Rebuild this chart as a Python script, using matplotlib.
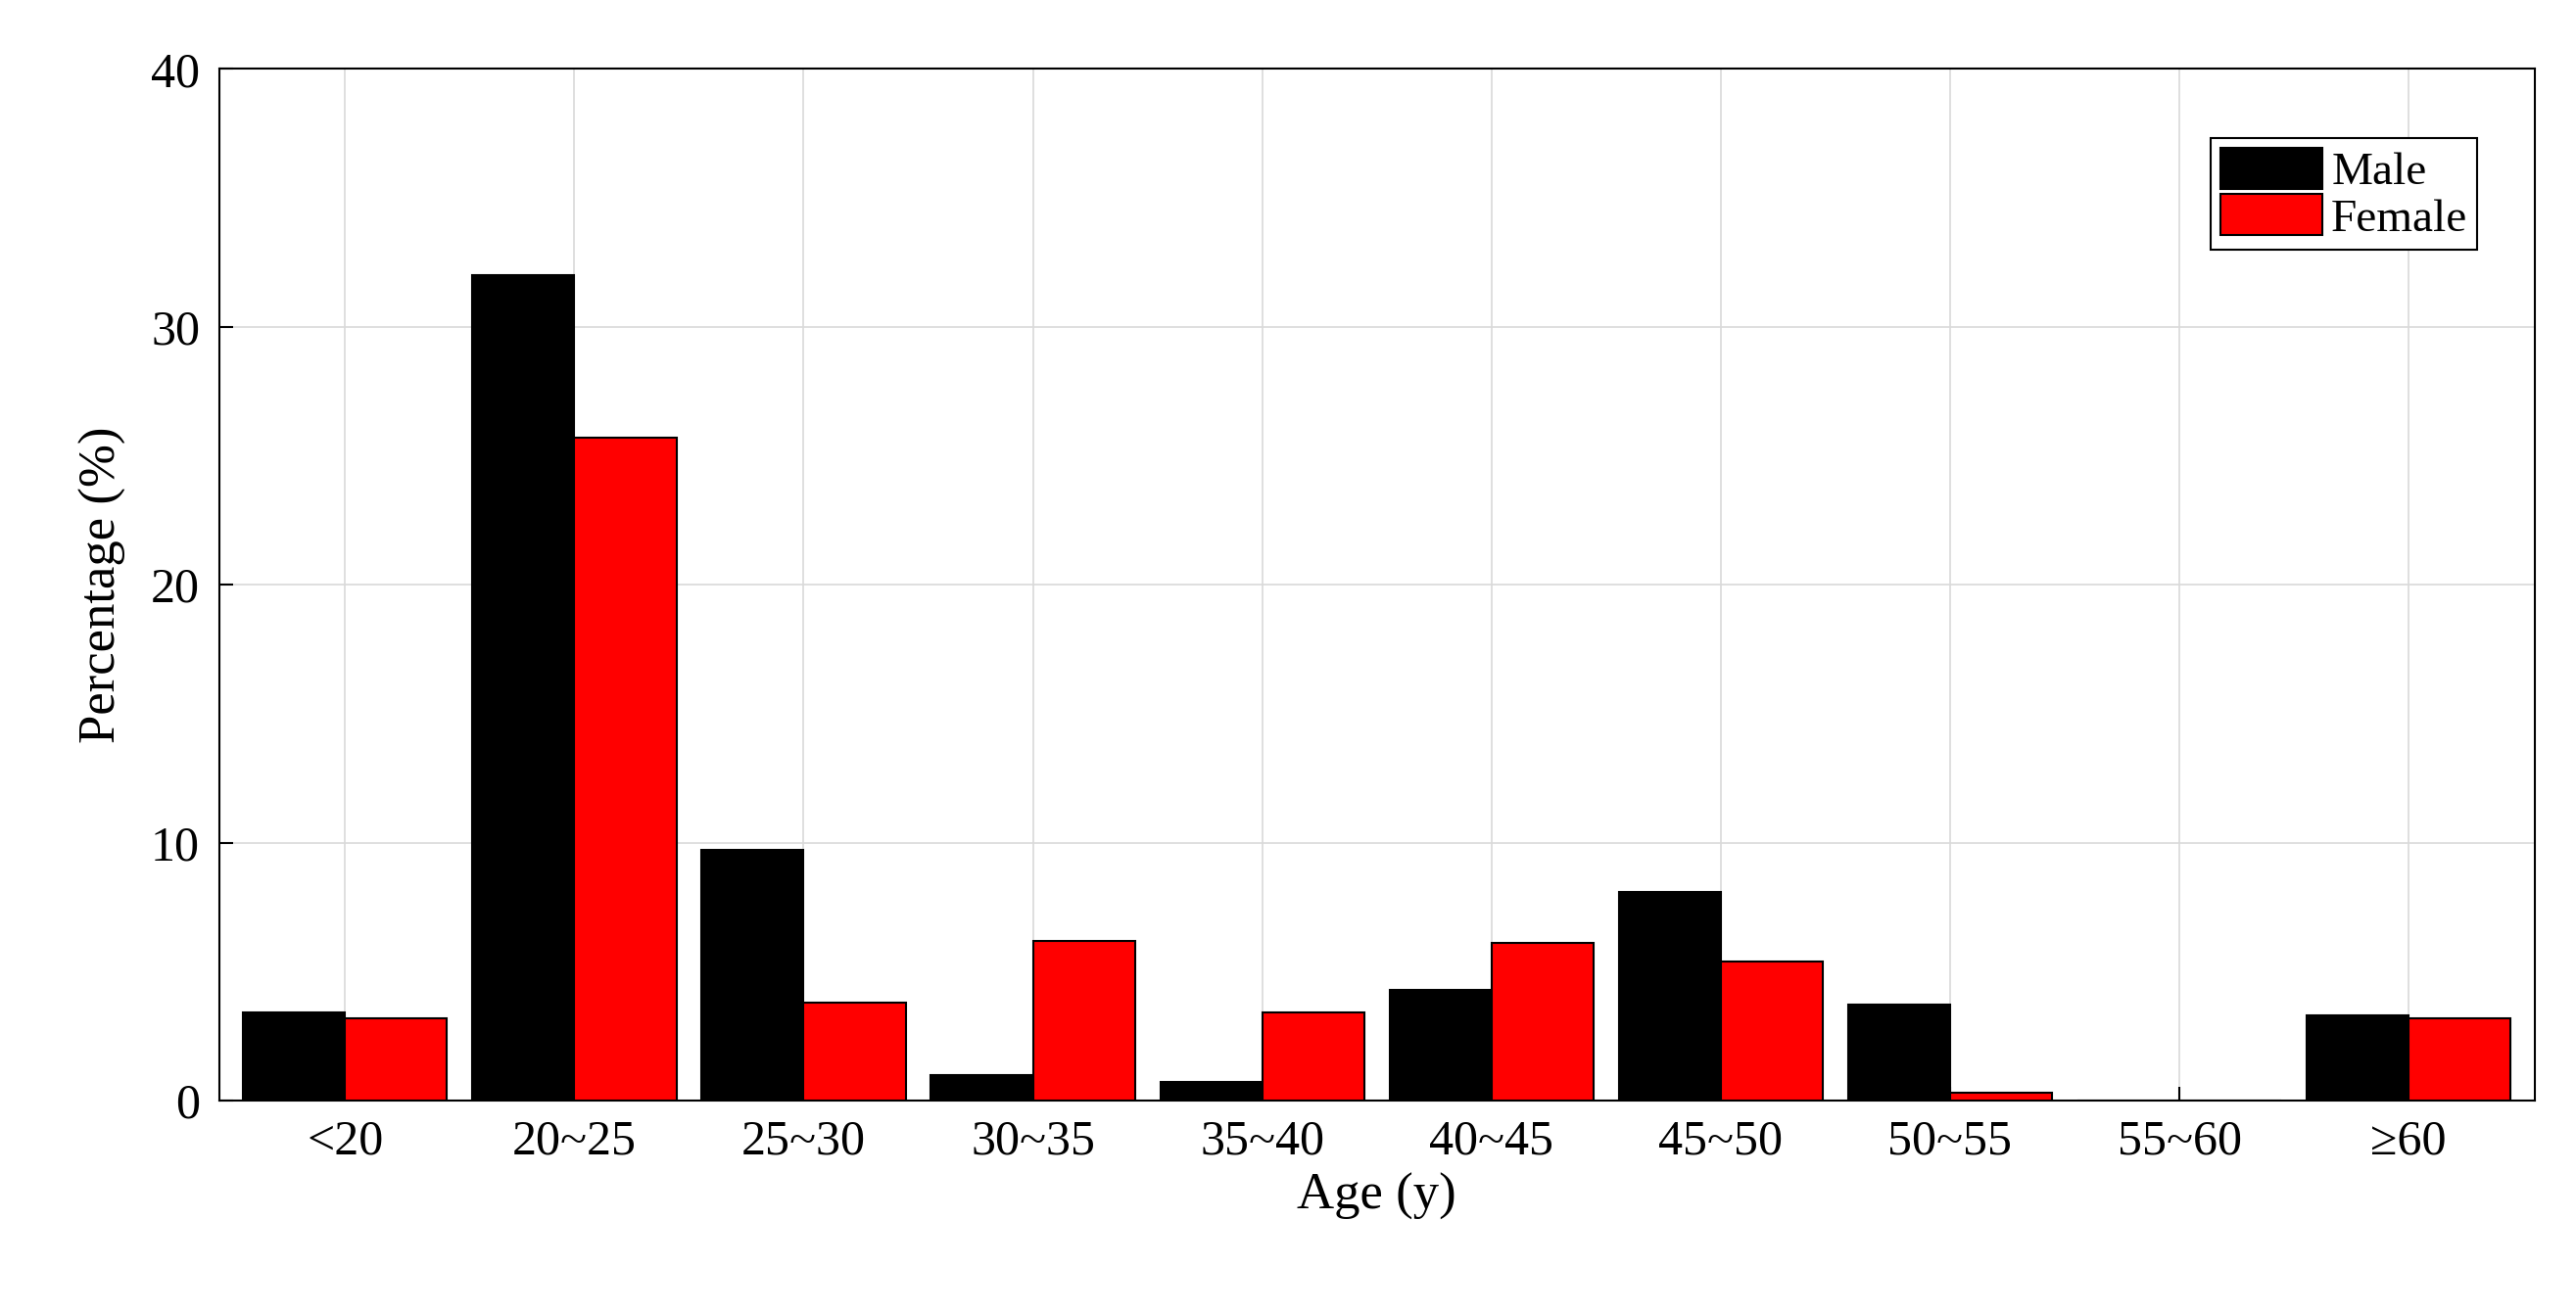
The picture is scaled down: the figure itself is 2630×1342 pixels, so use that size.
import matplotlib
matplotlib.use("Agg")
import matplotlib.pyplot as plt
import numpy as np

categories = ["<20", "20~25", "25~30", "30~35", "35~40", "40~45", "45~50", "50~55", "55~60", "≥60"]
male = [3.4, 32.0, 9.7, 1.0, 0.7, 4.3, 8.1, 3.7, 0.0, 3.3]
female = [3.2, 25.7, 3.8, 6.2, 3.4, 6.1, 5.4, 0.3, 0.0, 3.2]

plt.rcParams['font.family'] = ['Liberation Serif', 'DejaVu Serif']
fig = plt.figure(figsize=(26.3, 13.42), dpi=100)
ax = fig.add_axes([0.085, 0.1625, 0.899, 0.785])
x = np.arange(len(categories))
w = 0.445
ax.bar(x - w/2, male, w, color='black', edgecolor='black', linewidth=1.5, label='Male', zorder=3)
ax.bar(x + w/2, female, w, color='#ff0000', edgecolor='black', linewidth=1.5, label='Female', zorder=3)
ax.set_xlim(-0.55, len(categories) - 0.45)
ax.set_ylim(0, 40)
ax.set_yticks([0, 10, 20, 30, 40])
ax.set_xticks(x)
ax.set_xticklabels(categories)
ax.tick_params(labelsize=36, direction='in', length=10, width=1.5, pad=14)
ax.grid(True, color='#d9d9d9', linewidth=1.2, zorder=0)
for s in ax.spines.values():
    s.set_linewidth(1.5)
ax.set_xlabel("Age (y)", fontsize=38, labelpad=6)
ax.set_ylabel("Percentage (%)", fontsize=38, labelpad=18)
leg = ax.legend(loc='upper right', fontsize=34, fancybox=False, edgecolor='black',
                framealpha=1, borderpad=0.2, handlelength=2.2, handleheight=1.0,
                handletextpad=0.2, labelspacing=0.0, bbox_to_anchor=(0.985, 0.955))
leg.get_frame().set_linewidth(1.5)
fig.savefig("out.png", dpi=100)
